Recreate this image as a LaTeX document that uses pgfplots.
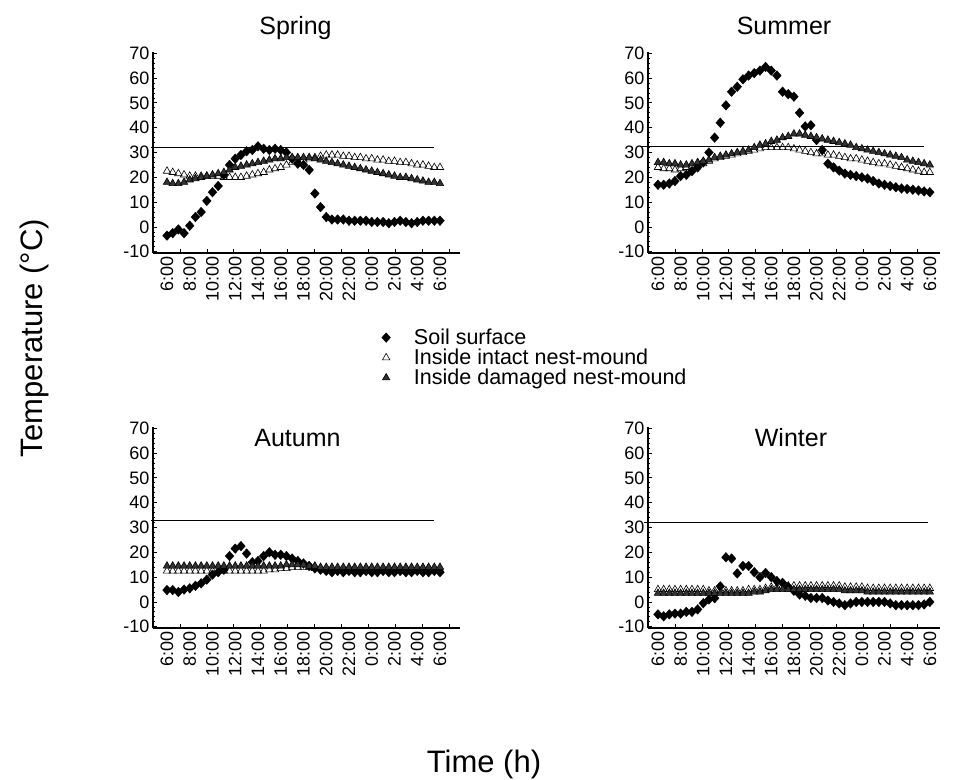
\documentclass[border=0pt]{standalone}
\usepackage{pgfplots}
\pgfplotsset{compat=1.18}
\usepackage{pgfplotstable}
\usepackage{fontspec}
\setmainfont{Liberation Sans}

% h = hours after 6:00; soil, intact mound, damaged mound
\pgfplotstableread{
h soil intact damaged
0 -3.5 22.5 18
0.5 -2.5 22 17.5
1 -1 21.5 17.5
1.5 -2.5 21 18
2 0.5 20.5 19
2.5 4 20.5 19.5
3 6 20.5 20
3.5 10.5 20.5 20.5
4 14 20.5 21
4.5 16.5 20.5 21.5
5 21 20 22
5.5 25 20 23
6 27.5 20 24
6.5 29 20 24.5
7 30.5 20.5 25
7.5 31 21 25.5
8 32.5 21.5 26
8.5 31.5 22 26.5
9 31 23 27
9.5 31.5 23.5 27.5
10 31 24 27.5
10.5 30 25 28
11 27.5 26 28
11.5 25.5 26.5 28
12 25 27 28
12.5 23 27.5 28
13 13.5 28 27.5
13.5 8 28.5 27
14 4 29 26.5
14.5 3 29 26
15 3 29 25.5
15.5 3 28.5 25
16 2.5 28.5 24.5
16.5 2.5 28 24
17 2.5 28 23.5
17.5 2.5 27.5 23
18 2 27.5 22.5
18.5 2 27 22
19 2 27 21.5
19.5 1.5 26.5 21
20 2 26.5 20.5
20.5 2.5 26 20
21 2 26 20
21.5 1.5 25.5 19.5
22 2 25 19
22.5 2.5 25 18.5
23 2.5 24.5 18
23.5 2.5 24 18
24 2.5 24 17.5
}\spring

\pgfplotstableread{
h soil intact damaged
0 17 24 26
0.5 17 23.5 26
1 17.5 23.5 25.5
1.5 18.5 23 25.5
2 20.5 23.5 25
2.5 21 24 25
3 22.5 24.5 25.5
3.5 24 25 26
4 26 25.5 26.5
4.5 30 26.5 27
5 36 27.5 28
5.5 42 28 28.5
6 49 28.5 29
6.5 54.5 29 29.5
7 56.5 29.5 30
7.5 59.5 30 30.5
8 61 30.5 31
8.5 62 31 32
9 63 31.5 33
9.5 64.5 32 33.5
10 63 32 34.5
10.5 61 32 35
11 54.5 32 36
11.5 53.5 32 36.5
12 52.5 31.5 37.5
12.5 46 31 37.5
13 40.5 30.5 37
13.5 41 30 36.5
14 35 29.5 36
14.5 31 29.5 35.5
15 25.5 29 35
15.5 24 29 34.5
16 22.7 28.5 34
16.5 21.5 28 33.5
17 21 27.5 33
17.5 20.5 27.5 32
18 20 27 31.5
18.5 19.5 26.5 31
19 18.5 26 30.5
19.5 17.5 25.5 30
20 17 25.5 29.5
20.5 16.5 25 29
21 16 24.5 28.5
21.5 15.5 24 28
22 15.3 23.5 27
22.5 15 23 26.5
23 14.7 22.5 26
23.5 14.3 22 25.5
24 14 22 25
}\summer

\pgfplotstableread{
h soil intact damaged
0 4.8 12.5 14.5
0.5 4.8 12.5 14.5
1 4 12.5 14.5
1.5 5 12.5 14.5
2 5.5 12.5 14.5
2.5 6.5 12.5 14.5
3 7.5 12.5 14.5
3.5 9 12.5 14.5
4 11 12.5 14.5
4.5 12 12.5 14.5
5 13 12.5 14.5
5.5 18.5 12.5 14.5
6 21.5 12.5 14.5
6.5 22.5 12.5 14.5
7 19.5 12.5 14.5
7.5 16 12.5 14.5
8 16.5 12.5 14.5
8.5 18.5 12.5 14.5
9 20 13 14.5
9.5 19 13 14.5
10 19 13.5 14.5
10.5 18.5 13.5 15
11 17.5 14 15
11.5 16.5 14 15
12 15.5 14 15
12.5 14.5 14 14.5
13 13.5 13.5 14.5
13.5 13 13.5 14
14 12.5 13 14
14.5 12 13 14
15 12.5 13 14
15.5 12 13 14
16 12.5 13 14
16.5 12 13 14
17 12 13 14
17.5 12.5 13 14
18 12 13 14
18.5 12 13 14
19 12.5 13 14
19.5 12 13 14
20 12 13 14
20.5 12.5 13 14
21 12 13 14
21.5 12 13 14
22 12.5 13 14
22.5 12 13 14
23 12 13 14
23.5 12.5 13 14
24 12 13 14
}\autumn

\pgfplotstableread{
h soil intact damaged
0 -5 5 3.5
0.5 -5.8 5 3.5
1 -5 5 3.5
1.5 -4.7 5 3.5
2 -4.7 5 3.5
2.5 -4 5 3.5
3 -4 5 3.5
3.5 -3 5 3.5
4 -0.5 5 3.5
4.5 1 4.5 3.5
5 1.5 4.5 3.5
5.5 6.3 4.5 3.5
6 18 4.5 3.5
6.5 17.5 4.5 3.5
7 11.5 4.5 3.5
7.5 14.5 4.5 3.5
8 14.5 5 3.5
8.5 12 5 4
9 10 5 4
9.5 11.7 5.5 4.5
10 10 6 5
10.5 8.4 6 5
11 7.7 6.5 5
11.5 6 6.5 5
12 4.5 6.5 5
12.5 3 6.5 5
13 2.5 6.5 5
13.5 1.6 6.5 5
14 1.6 6.5 5
14.5 1.6 6.5 5
15 0.6 6.5 5
15.5 0 6.5 5
16 -0.6 6.5 5
16.5 -1.3 6 4.5
17 -0.6 6 4.5
17.5 0 6 4.5
18 0 6 4.5
18.5 0 5.5 4
19 0 5.5 4
19.5 0 5.5 4
20 0 5.5 4
20.5 -0.6 5.5 4
21 -1.3 5.5 4
21.5 -1.3 5.5 4
22 -1.3 5.5 4
22.5 -1.3 5.5 4
23 -1.3 5.5 4
23.5 -1 5.5 4
24 0 5.5 4
}\winter

\pgfplotsset{
  panel/.style={
    anchor=south west, scale only axis, height=201pt,
    ymin=-10.5, ymax=70.5,
    axis x line*=bottom, axis y line*=left,
    axis line style={black, line width=1.1pt},
    tick align=inside, tick style={black, line width=0.8pt},
    major tick length=4pt, minor tick length=2pt,
    ytick={-10,0,...,70}, minor y tick num=4,
    xticklabels={},
    extra x ticks={0,2,...,24},
    extra x tick labels={6:00,8:00,10:00,12:00,14:00,16:00,18:00,20:00,22:00,0:00,2:00,4:00,6:00},
    extra x tick style={major tick length=0pt,
      tick label style={rotate=90, anchor=east}},
    tick label style={font=\fontsize{18}{18}\selectfont},
    /pgf/number format/assume math mode=true,
    every axis title shift=0pt,
    clip=false,
  },
  soil/.style={only marks, mark=diamond*, mark size=4.8pt,
    mark options={xscale=1.2, draw=black, fill=black}},
  intact/.style={only marks, mark=triangle, mark size=4.3pt,
    mark options={draw=black, fill=white, line width=0.6pt}},
  damaged/.style={only marks, mark=triangle*, mark size=4.3pt,
    mark options={draw=black, fill=black!80, line width=0.6pt}},
  topttl/.style={title style={font=\fontsize{25}{25}\selectfont,
    at={(0.5,1)}, anchor=base, yshift=18pt}},
  botttl/.style={title style={font=\fontsize{25}{25}\selectfont,
    at={(0.5,1)}, anchor=base, yshift=-19pt}},
}

\begin{document}
\begin{tikzpicture}
\useasboundingbox (0,0) rectangle (968pt,-779pt);

% Spring
\begin{axis}[panel, topttl, at={(153pt,-253pt)}, width=307pt,
  xmin=-1.23, xmax=25.76, xtick={1.14,3.51,...,25.6},
  title={Spring}, title style={xshift=-11pt},
  legend style={at={(0.735,-0.36)}, anchor=north west, draw=none, fill=none,
    font=\fontsize{21.5}{21.5}\selectfont, row sep=0pt,
    nodes={inner sep=1.5pt},
    /tikz/every odd column/.append style={column sep=22pt}},
  legend cell align=left]
\addplot[soil] table[x=h, y=soil] {\spring};
\addplot[intact] table[x=h, y=intact] {\spring};
\addplot[damaged] table[x=h, y=damaged] {\spring};
\addplot[black, line width=1.1pt, forget plot] coordinates {(-1.4,32) (23.5,32)};
\legend{Soil surface, Inside intact nest-mound, Inside damaged nest-mound}
\end{axis}

% Summer
\begin{axis}[panel, topttl, at={(648pt,-253pt)}, width=292pt,
  xmin=-0.88, xmax=24.9, xtick={1.5,3.88,...,24.5},
  title={Summer}, title style={xshift=-10pt}]
\addplot[soil] table[x=h, y=soil] {\summer};
\addplot[intact] table[x=h, y=intact] {\summer};
\addplot[damaged] table[x=h, y=damaged] {\summer};
\addplot[black, line width=1.1pt] coordinates {(-1.6,32.5) (23.5,32.5)};
\end{axis}

% Autumn
\begin{axis}[panel, botttl, at={(153pt,-628pt)}, width=307pt,
  xmin=-1.23, xmax=25.76, xtick={1.14,3.51,...,25.6},
  title={Autumn}, title style={xshift=-9pt}]
\addplot[soil] table[x=h, y=soil] {\autumn};
\addplot[intact] table[x=h, y=intact] {\autumn};
\addplot[damaged] table[x=h, y=damaged] {\autumn};
\addplot[black, line width=1.1pt] coordinates {(-1.4,33) (23.5,33)};
\end{axis}

% Winter
\begin{axis}[panel, botttl, at={(648pt,-628pt)}, width=292pt,
  xmin=-0.88, xmax=24.9, xtick={1.5,3.88,...,24.5},
  title={Winter}, title style={xshift=-3pt}]
\addplot[soil] table[x=h, y=soil] {\winter};
\addplot[intact] table[x=h, y=intact] {\winter};
\addplot[damaged] table[x=h, y=damaged] {\winter};
\addplot[black, line width=1.1pt] coordinates {(-1.2,32) (23.8,32)};
\end{axis}

\node[rotate=90, anchor=base, font=\fontsize{31}{31}\selectfont]
  at (42pt,-338pt) {Temperature (°C)};
\node[anchor=base, font=\fontsize{31}{31}\selectfont]
  at (484pt,-772pt) {Time (h)};
\end{tikzpicture}
\end{document}
